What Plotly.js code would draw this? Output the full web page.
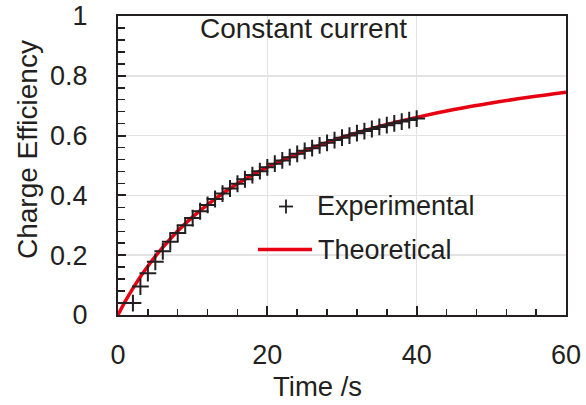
<!DOCTYPE html>
<html>
<head>
<meta charset="utf-8">
<script src="https://cdn.plot.ly/plotly-3.0.1.min.js"></script>
<style>html,body{margin:0;padding:0;background:#fff;}#chart{width:586px;height:405px;}</style>
</head>
<body>
<div id="chart"></div>
<script>
// Experimental data (time in s, charge efficiency)
var expTime = [2,3,4,5,6,7,8,9,10,11,12,13,14,15,16,17,18,19,20,21,22,23,24,25,26,27,28,29,30,31,32,33,34,35,36,37,38,39,40];
var expEff  = [0.040,0.095,0.140,0.178,0.213,0.245,0.274,0.300,0.324,0.347,0.368,0.388,0.406,0.423,0.439,0.454,0.468,0.481,0.494,0.506,0.517,0.528,0.539,0.549,0.558,0.567,0.576,0.585,0.593,0.600,0.608,0.615,0.622,0.629,0.635,0.641,0.647,0.652,0.657];
// Theoretical curve
var thTime = [0,1,2,3,4,5,6,8,10,12,15,18,20,25,30,35,40,45,50,55,60];
var thEff  = [0,0.047,0.089,0.128,0.163,0.196,0.226,0.281,0.328,0.369,0.423,0.468,0.494,0.549,0.594,0.631,0.661,0.687,0.709,0.728,0.745];
// Tick labels
var xTickVals = [0, 20, 40, 60];
var xTickText = ['0', '20', '40', '60'];
var yTickVals = [0, 0.2, 0.4, 0.6, 0.8, 1];
var yTickText = ['0', '0.2', '0.4', '0.6', '0.8', '1'];

var ink = '#231f20';
var red = '#e60012';
var font = 'Liberation Sans, Arial, sans-serif';

var traces = [
  {x: thTime, y: thEff, mode: 'lines', name: 'Theoretical', line: {color: red, width: 3.5, shape: 'spline'}, showlegend: false, cliponaxis: false},
  {x: expTime, y: expEff, mode: 'markers', name: 'Experimental', marker: {symbol: 'cross-thin', size: 12, line: {color: ink, width: 2}}, showlegend: false}
];

var T = 16, B = 315;
function px2x(p){return (p-118)/448;}
function px2y(p){return (B-p)/(B-T);}

var layout = {
  width: 586, height: 405,
  margin: {l: 118, r: 20, t: T, b: 405 - B},
  paper_bgcolor: '#fff', plot_bgcolor: '#fff',
  font: {family: font, size: 27, color: ink},
  showlegend: false,
  xaxis: {
    range: [0, 60], tickmode: 'array', tickvals: xTickVals, ticktext: xTickText,
    ticks: 'inside', ticklen: 9, tickwidth: 2, tickcolor: ink,
    minor: {dtick: 4, tick0: 0, ticks: 'inside', ticklen: 6, tickwidth: 1.5, tickcolor: ink, showgrid: false},
    showline: true, linecolor: ink, linewidth: 2, mirror: true,
    showgrid: true, gridcolor: '#e3e3e3', gridwidth: 1.5,
    zeroline: false, ticklabelstandoff: 15, ticklabeloverflow: 'allow',
    tickfont: {family: font, size: 27, color: ink}
  },
  yaxis: {
    range: [0, 1], tickmode: 'array', tickvals: yTickVals, ticktext: yTickText,
    ticks: 'inside', ticklen: 8, tickwidth: 2, tickcolor: ink,
    minor: {dtick: 0.04, tick0: 0, ticks: 'inside', ticklen: 7, tickwidth: 1.5, tickcolor: ink, showgrid: false},
    showline: true, linecolor: ink, linewidth: 2, mirror: true,
    showgrid: true, gridcolor: '#e3e3e3', gridwidth: 1.5,
    zeroline: false, ticklabelstandoff: 23, ticklabeloverflow: 'allow',
    tickfont: {family: font, size: 27, color: ink}
  },
  shapes: [
    {type: 'line', xref: 'paper', yref: 'paper', x0: px2x(279), x1: px2x(293), y0: px2y(206.5), y1: px2y(206.5), line: {color: ink, width: 1.8}},
    {type: 'line', xref: 'paper', yref: 'paper', x0: px2x(286), x1: px2x(286), y0: px2y(199.5), y1: px2y(213.5), line: {color: ink, width: 1.8}},
    {type: 'line', xref: 'paper', yref: 'paper', x0: px2x(258), x1: px2x(312), y0: px2y(249.5), y1: px2y(249.5), line: {color: red, width: 3.5}}
  ],
  annotations: [
    {text: 'Constant current', xref: 'paper', yref: 'paper', x: px2x(303), y: px2y(29), xanchor: 'center', yanchor: 'middle', showarrow: false, font: {family: font, size: 28, color: ink}},
    {text: 'Experimental', xref: 'paper', yref: 'paper', x: px2x(315), y: px2y(206), xanchor: 'left', yanchor: 'middle', showarrow: false, font: {family: font, size: 27, color: ink}},
    {text: 'Theoretical', xref: 'paper', yref: 'paper', x: px2x(316), y: px2y(250), xanchor: 'left', yanchor: 'middle', showarrow: false, font: {family: font, size: 27, color: ink}},
    {text: 'Time /s', xref: 'paper', yref: 'paper', x: px2x(317), y: px2y(386), xanchor: 'center', yanchor: 'middle', showarrow: false, font: {family: font, size: 27.5, color: ink}},
    {text: 'Charge Efficiency', xref: 'paper', yref: 'paper', x: px2x(27), y: px2y(150), xanchor: 'center', yanchor: 'middle', textangle: -90, showarrow: false, font: {family: font, size: 28, color: ink}}
  ]
};

Plotly.newPlot('chart', traces, layout, {displayModeBar: false, staticPlot: true});
</script>
</body>
</html>
